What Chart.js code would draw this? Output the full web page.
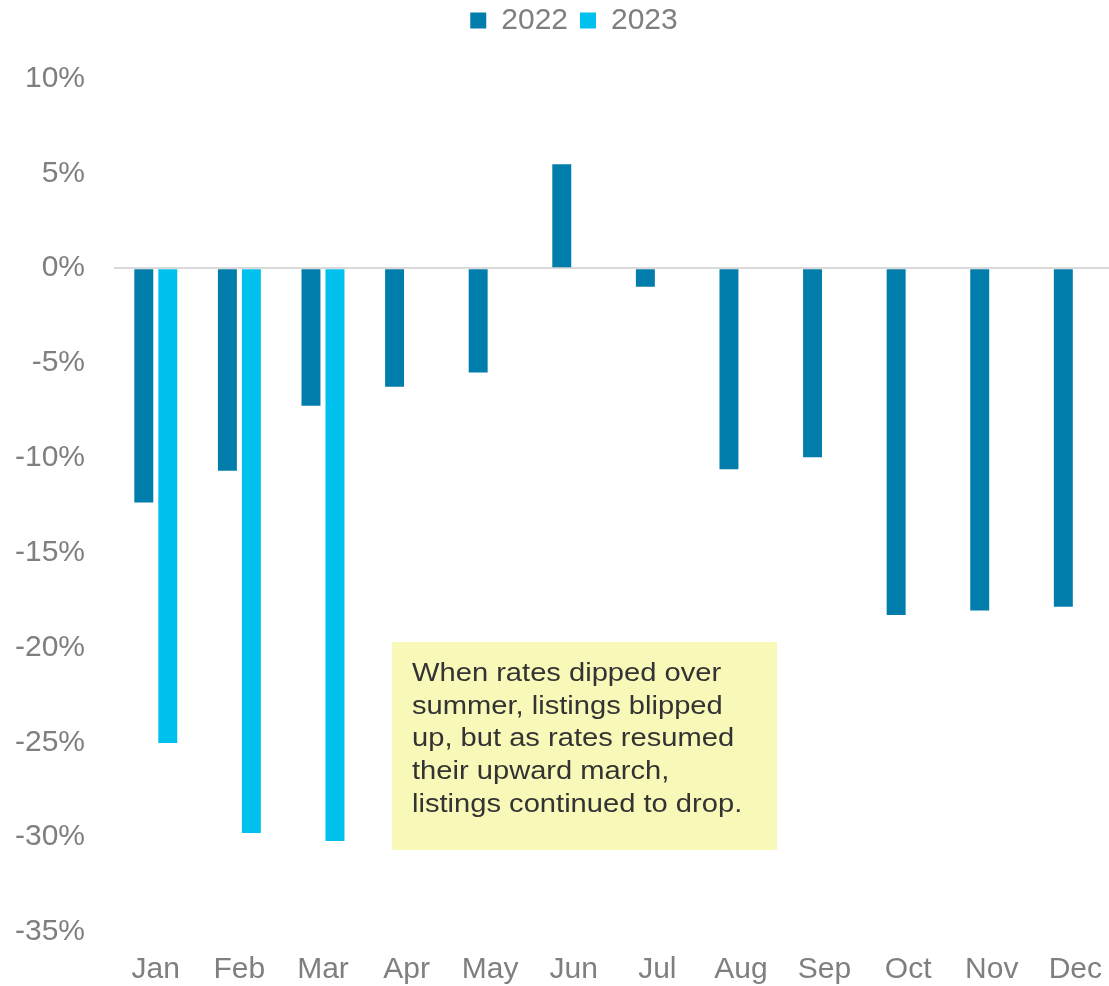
<!DOCTYPE html>
<html>
<head>
<meta charset="utf-8">
<script src="https://cdn.jsdelivr.net/npm/chart.js@4/dist/chart.umd.min.js"></script>
<style>
  html, body { margin: 0; padding: 0; background: #ffffff; overflow: hidden; }
  #wrap { width: 1122px; height: 986px; }
</style>
</head>
<body>
<div id="wrap"><canvas id="c" width="1122" height="986"></canvas></div>
<script>
const categories = ['Jan','Feb','Mar','Apr','May','Jun','Jul','Aug','Sep','Oct','Nov','Dec'];
const series2022 = [-12.35, -10.68, -7.25, -6.25, -5.5, 5.48, -0.98, -10.6, -9.97, -18.28, -18.05, -17.85];
const series2023 = [-25.03, -29.78, -30.2, null, null, null, null, null, null, null, null, null];
const seriesNames = ['2022', '2023'];
const yTicks = { min: -35, max: 10, step: 5 };
const noteLines = [
  'When rates dipped over',
  'summer, listings blipped',
  'up, but as rates resumed',
  'their upward march,',
  'listings continued to drop.'
];

const FONT = '"Liberation Sans", Arial, sans-serif';
const GREY = '#7f7f7f';

const legendTweak = {
  id: 'legendTweak',
  beforeInit(chart) {
    const orig = chart.legend.fit;
    chart.legend.fit = function () {
      orig.call(this);
      this.height = 85;
    };
  },
  afterLayout(chart) {
    chart.legend.left = 26;
  }
};

const notePlugin = {
  id: 'note',
  afterDraw(chart) {
    const ctx = chart.ctx;
    ctx.save();
    ctx.fillStyle = '#f8f8b8';
    ctx.fillRect(392, 642, 385, 208);
    ctx.fillStyle = '#333333';
    ctx.font = '26px ' + FONT;
    ctx.textBaseline = 'alphabetic';
    ctx.textAlign = 'left';
    noteLines.forEach((t, i) => {
      ctx.save();
      ctx.translate(412, 681 + i * 32.7);
      ctx.scale(1.12, 1);
      ctx.fillText(t, 0, 0);
      ctx.restore();
    });
    ctx.restore();
  }
};

new Chart(document.getElementById('c'), {
  type: 'bar',
  data: {
    labels: categories,
    datasets: [
      { label: seriesNames[0], data: series2022, backgroundColor: '#007dab', barPercentage: 0.79, categoryPercentage: 0.574 },
      { label: seriesNames[1], data: series2023, backgroundColor: '#00c0ee', barPercentage: 0.79, categoryPercentage: 0.574 }
    ]
  },
  options: {
    responsive: false,
    animation: false,
    layout: { padding: { left: 0, right: 0, top: -6.5, bottom: 0 } },
    plugins: {
      legend: {
        position: 'top',
        labels: {
          color: GREY,
          font: { family: FONT, size: 30 },
          boxWidth: 16,
          boxHeight: 16,
          padding: 12
        }
      },
      tooltip: { enabled: false }
    },
    scales: {
      x: {
        grid: { display: false, drawTicks: false },
        border: { display: false },
        ticks: { color: GREY, font: { family: FONT, size: 30 }, padding: 20, maxRotation: 0, autoSkip: false },
        afterFit(s) { s.height = 54; }
      },
      y: {
        min: yTicks.min,
        max: yTicks.max,
        grid: {
          drawTicks: false,
          lineWidth: 2,
          color: (c) => (c.tick && c.tick.value === 0 ? '#d9d9d9' : 'rgba(0,0,0,0)')
        },
        border: { display: false },
        ticks: {
          stepSize: yTicks.step,
          color: GREY,
          font: { family: FONT, size: 30 },
          padding: 29,
          callback: (v) => v + '%'
        },
        afterFit(s) { s.width = 114; }
      }
    }
  },
  plugins: [legendTweak, notePlugin]
});
</script>
</body>
</html>
